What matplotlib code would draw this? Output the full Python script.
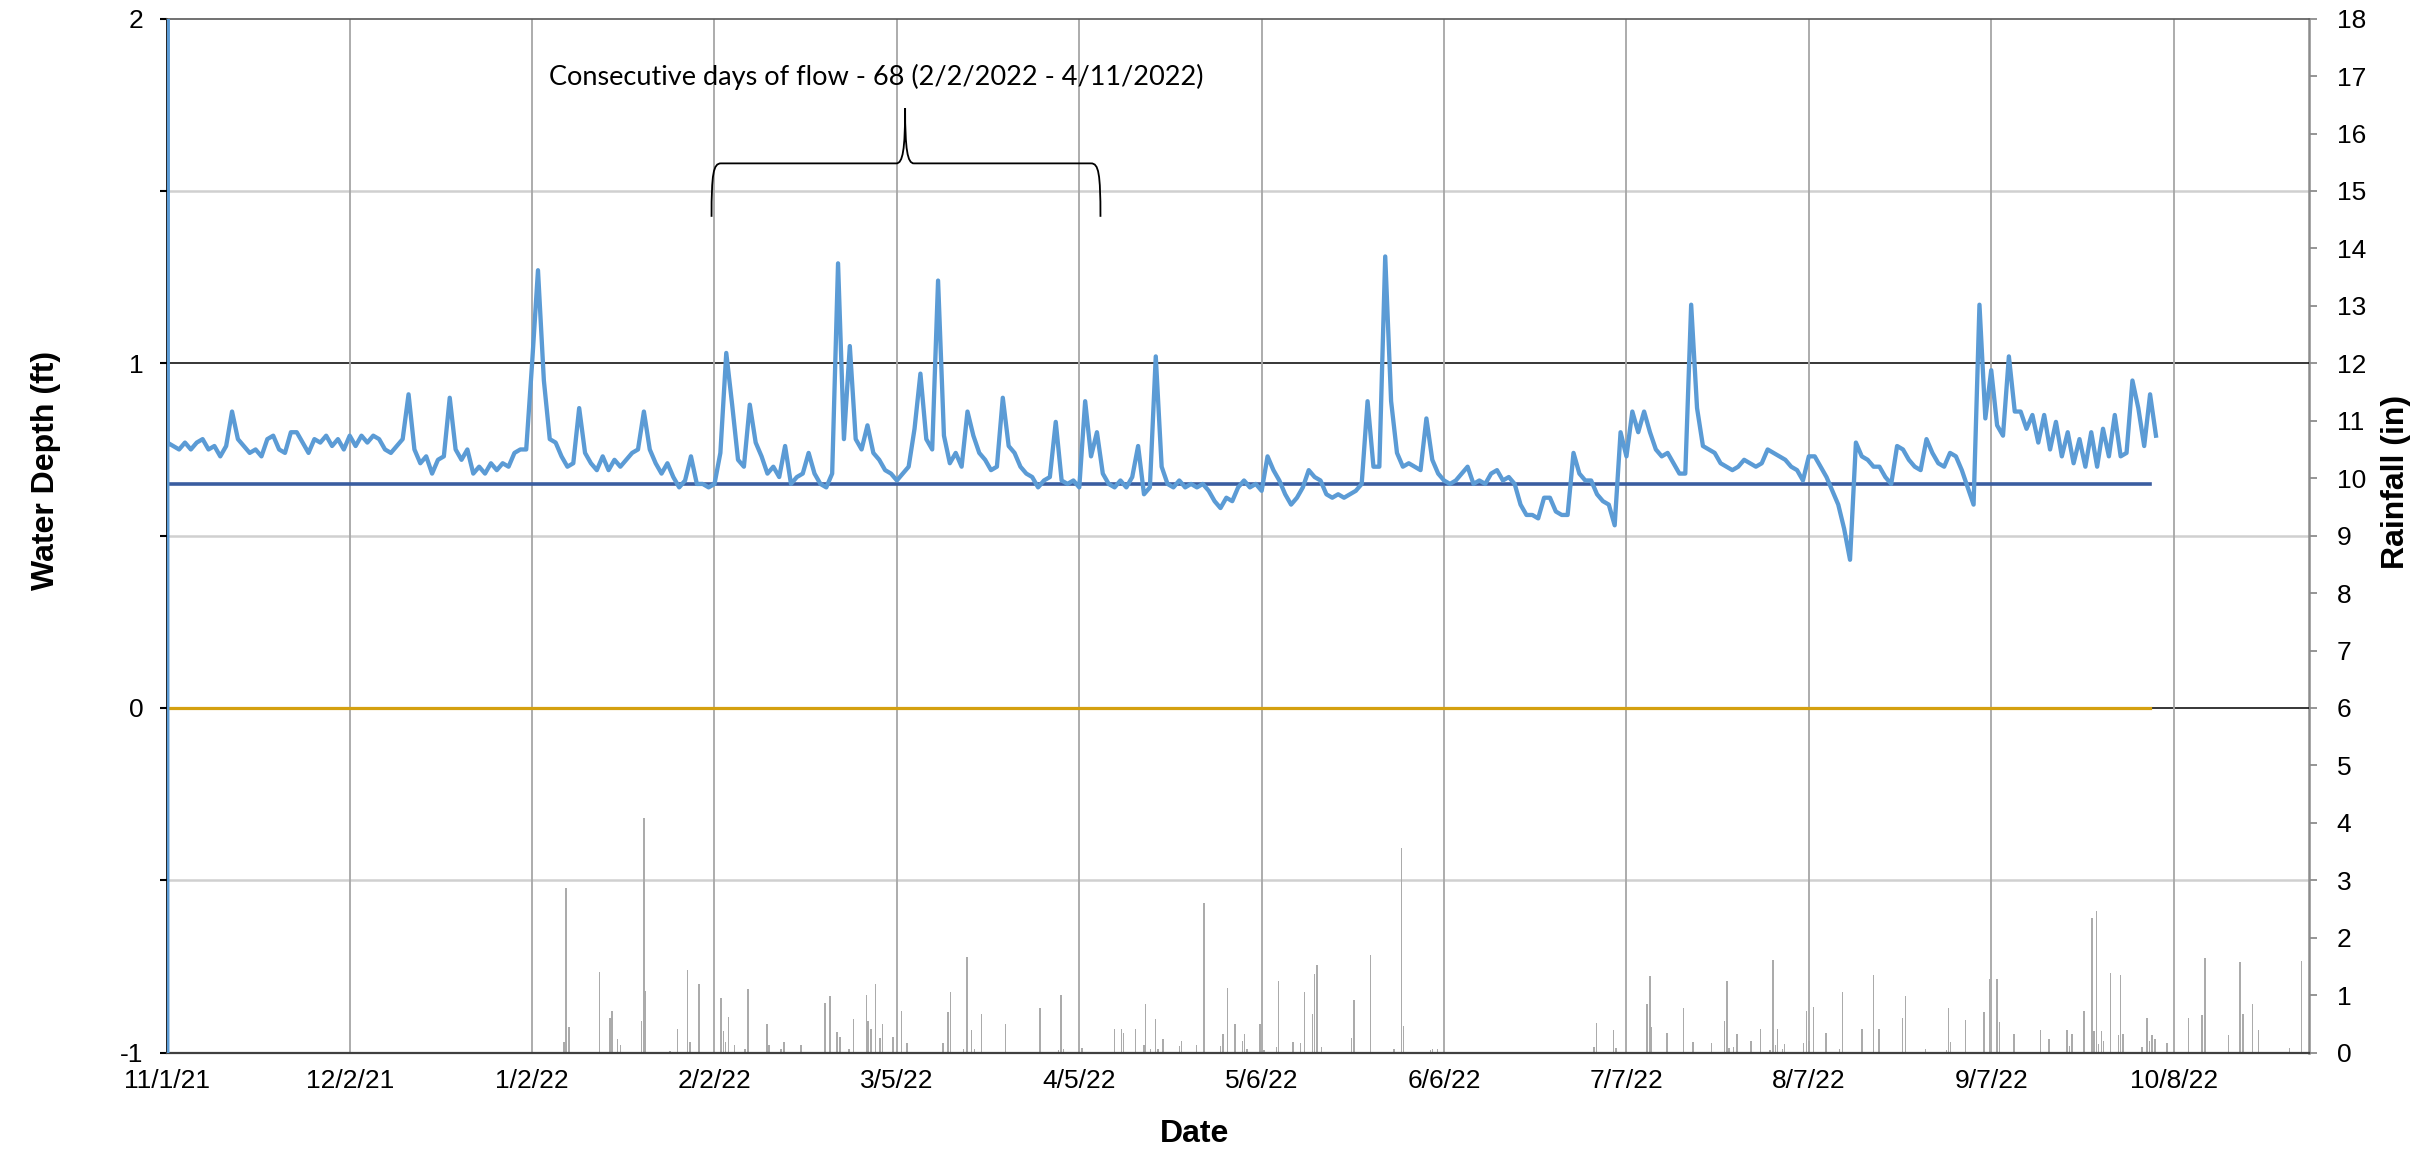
import matplotlib
matplotlib.use("Agg")
import matplotlib.pyplot as plt
from matplotlib.path import Path
from matplotlib.patches import PathPatch
from matplotlib.ticker import MultipleLocator, FixedLocator, FuncFormatter
import matplotlib.dates as mdates
import numpy as np
import pandas as pd

plt.rcParams['font.family'] = ['Liberation Sans', 'DejaVu Sans']

start = pd.Timestamp("2021-11-01")
x_end = pd.Timestamp("2022-10-31")

# daily water depth (ft) from 11/1/21
depth_ft = [
    0.77, 0.76, 0.75, 0.77, 0.75, 0.77, 0.78, 0.75, 0.76, 0.73,
    0.76, 0.86, 0.78, 0.76, 0.74, 0.75, 0.73, 0.78, 0.79, 0.75,
    0.74, 0.80, 0.80, 0.77, 0.74, 0.78, 0.77, 0.79, 0.76, 0.78,
    0.75, 0.79, 0.76, 0.79, 0.77, 0.79, 0.78, 0.75, 0.74, 0.76,
    0.78, 0.91, 0.75, 0.71, 0.73, 0.68, 0.72, 0.73, 0.90, 0.75,
    0.72, 0.75, 0.68, 0.70, 0.68, 0.71, 0.69, 0.71, 0.70, 0.74,
    0.75, 0.75, 1.00, 1.27, 0.95, 0.78, 0.77, 0.73, 0.70, 0.71,
    0.87, 0.74, 0.71, 0.69, 0.73, 0.69, 0.72, 0.70, 0.72, 0.74,
    0.75, 0.86, 0.75, 0.71, 0.68, 0.71, 0.67, 0.64, 0.66, 0.73,
    0.65, 0.65, 0.64, 0.65, 0.74, 1.03, 0.88, 0.72, 0.70, 0.88,
    0.77, 0.73, 0.68, 0.70, 0.67, 0.76, 0.65, 0.67, 0.68, 0.74,
    0.68, 0.65, 0.64, 0.68, 1.29, 0.78, 1.05, 0.78, 0.75, 0.82,
    0.74, 0.72, 0.69, 0.68, 0.66, 0.68, 0.70, 0.81, 0.97, 0.78,
    0.75, 1.24, 0.79, 0.71, 0.74, 0.70, 0.86, 0.79, 0.74, 0.72,
    0.69, 0.70, 0.90, 0.76, 0.74, 0.70, 0.68, 0.67, 0.64, 0.66,
    0.67, 0.83, 0.66, 0.65, 0.66, 0.64, 0.89, 0.73, 0.80, 0.68,
    0.65, 0.64, 0.66, 0.64, 0.67, 0.76, 0.62, 0.64, 1.02, 0.70,
    0.65, 0.64, 0.66, 0.64, 0.65, 0.64, 0.65, 0.63, 0.60, 0.58,
    0.61, 0.60, 0.64, 0.66, 0.64, 0.65, 0.63, 0.73, 0.69, 0.66,
    0.62, 0.59, 0.61, 0.64, 0.69, 0.67, 0.66, 0.62, 0.61, 0.62,
    0.61, 0.62, 0.63, 0.65, 0.89, 0.70, 0.70, 1.31, 0.89, 0.74,
    0.70, 0.71, 0.70, 0.69, 0.84, 0.72, 0.68, 0.66, 0.65, 0.66,
    0.68, 0.70, 0.65, 0.66, 0.65, 0.68, 0.69, 0.66, 0.67, 0.65,
    0.59, 0.56, 0.56, 0.55, 0.61, 0.61, 0.57, 0.56, 0.56, 0.74,
    0.68, 0.66, 0.66, 0.62, 0.60, 0.59, 0.53, 0.80, 0.73, 0.86,
    0.80, 0.86, 0.80, 0.75, 0.73, 0.74, 0.71, 0.68, 0.68, 1.17,
    0.87, 0.76, 0.75, 0.74, 0.71, 0.70, 0.69, 0.70, 0.72, 0.71,
    0.70, 0.71, 0.75, 0.74, 0.73, 0.72, 0.70, 0.69, 0.66, 0.73,
    0.73, 0.70, 0.67, 0.63, 0.59, 0.52, 0.43, 0.77, 0.73, 0.72,
    0.70, 0.70, 0.67, 0.65, 0.76, 0.75, 0.72, 0.70, 0.69, 0.78,
    0.74, 0.71, 0.70, 0.74, 0.73, 0.69, 0.64, 0.59, 1.17, 0.84,
    0.98, 0.82, 0.79, 1.02, 0.86, 0.86, 0.81, 0.85, 0.77, 0.85,
    0.75, 0.83, 0.73, 0.80, 0.71, 0.78, 0.70, 0.80, 0.70, 0.81,
    0.73, 0.85, 0.73, 0.74, 0.95, 0.87, 0.76, 0.91, 0.79,
]
startup_ft = [-1.2, 2.2]   # logger start-up spike on 11/1/21

ref_depth = 0.65    # dark blue reference line
zero_depth = 0.0    # gold line
ref_end = pd.Timestamp("2022-10-04")

# rainfall events: days after 11/1/21 and inches
rain_day = [
    67.4, 67.8, 68.3, 73.5, 75.2, 75.6, 76.5, 77.0, 80.6, 81.0, 81.3, 85.4, 86.7,
    88.4, 88.8, 90.4, 94.1, 94.5, 94.9, 95.4, 96.4, 98.2, 98.7, 101.9, 102.3,
    104.3, 104.8, 107.7, 111.8, 112.6, 113.8, 114.3, 115.9, 116.6, 118.8, 119.1,
    119.6, 120.4, 121.1, 121.6, 123.3, 124.8, 125.7, 131.8, 132.7, 133.1, 135.3,
    135.9, 136.7, 137.2, 138.4, 142.5, 148.3, 151.5, 151.9, 152.3, 155.5, 161.0,
    162.2, 162.5, 164.6, 166.0, 166.3, 167.1, 168.0, 168.4, 169.2, 172.0, 172.4,
    174.9, 176.2, 179.0, 179.4, 180.2, 181.5, 182.7, 183.1, 183.5, 185.7, 186.4,
    188.5, 188.9, 191.3, 192.6, 193.3, 194.6, 195.0, 195.4, 196.2, 201.3, 201.7,
    204.5, 208.5, 209.8, 210.1, 214.7, 215.0, 215.9, 236.5, 242.5, 242.9, 245.8,
    246.2, 251.5, 252.0, 252.3, 254.9, 257.7, 259.3, 262.5, 264.7, 265.1, 265.4,
    266.2, 266.8, 269.2, 270.8, 272.4, 272.9, 273.3, 273.7, 274.5, 274.9, 278.1,
    278.6, 279.0, 279.8, 281.9, 284.2, 284.7, 288.0, 290.0, 290.9, 294.9, 295.4,
    298.8, 302.4, 302.7, 303.1, 305.6, 308.8, 309.7, 311.0, 311.4, 313.9, 318.4,
    319.8, 322.9, 323.3, 323.7, 325.8, 327.1, 327.5, 327.9, 328.2, 328.7, 329.1,
    330.3, 331.6, 332.0, 332.4, 335.6, 336.5, 336.9, 337.3, 337.8, 339.9, 343.5,
    345.8, 346.3, 350.3, 352.3, 352.8, 354.4, 355.4, 360.7, 362.7,
]
rain_in = [
    0.18, 2.86, 0.45, 1.41, 0.61, 0.73, 0.24, 0.14, 0.55, 4.08, 1.08, 0.03, 0.42,
    1.44, 0.18, 1.19, 0.95, 0.38, 0.18, 0.62, 0.13, 0.06, 1.10, 0.50, 0.13,
    0.06, 0.18, 0.14, 0.87, 0.99, 0.36, 0.28, 0.06, 0.59, 1.01, 0.55,
    0.42, 1.20, 0.26, 0.50, 0.27, 0.72, 0.16, 0.16, 0.71, 1.06, 0.07,
    1.67, 0.40, 0.06, 0.68, 0.50, 0.78, 0.04, 1.01, 0.06, 0.08, 0.42,
    0.42, 0.35, 0.42, 0.14, 0.85, 0.07, 0.58, 0.07, 0.24, 0.11, 0.21,
    0.14, 2.61, 0.11, 0.32, 1.13, 0.50, 0.21, 0.33, 0.07, 0.50, 0.05,
    0.09, 1.25, 0.18, 0.16, 1.06, 0.68, 1.37, 1.53, 0.09, 0.26, 0.92,
    1.70, 0.07, 3.56, 0.46, 0.04, 0.06, 0.06, 0.02, 0.10, 0.52, 0.39,
    0.08, 0.85, 1.33, 0.45, 0.35, 0.77, 0.19, 0.16, 0.55, 1.25, 0.08,
    0.10, 0.32, 0.21, 0.42, 0.04, 1.61, 0.13, 0.41, 0.06, 0.15, 0.17,
    0.72, 0.21, 0.79, 0.34, 0.06, 1.05, 0.42, 1.36, 0.42, 0.60, 0.98,
    0.06, 0.04, 0.77, 0.18, 0.57, 0.71, 1.28, 1.28, 0.54, 0.32, 0.40,
    0.24, 0.40, 0.11, 0.33, 0.73, 2.34, 0.37, 2.46, 0.15, 0.37, 0.20,
    1.39, 0.31, 1.36, 0.32, 0.10, 0.60, 0.20, 0.31, 0.23, 0.17, 0.60,
    0.66, 1.65, 0.31, 1.58, 0.68, 0.85, 0.40, 0.08, 1.60,
]

note_text = "Consecutive days of flow - 68 (2/2/2022 - 4/11/2022)"
brace_left, brace_tip, brace_right = 92.5, 125.4, 158.6   # days after 11/1/21
brace_foot, brace_bar, brace_peak = 1.425, 1.58, 1.74      # ft

# ---------------------------------------------------------------------
depth_dates = [start, start] + list(start + pd.to_timedelta(np.arange(len(depth_ft)), unit="D"))
depth_vals = startup_ft + depth_ft
rain_dates = start + pd.to_timedelta(rain_day, unit="D")

fig = plt.figure(figsize=(24.32, 11.56), dpi=100)
ax = fig.add_axes([0.0688, 0.0894, 0.8806, 0.8945])
ax2 = ax.twinx()
ax.set_zorder(ax2.get_zorder() + 1)
ax.patch.set_visible(False)

# rainfall bars on the secondary axis
ax2.bar(rain_dates, rain_in, width=0.25, color="#ababab", linewidth=0, zorder=2)
ax2.set_ylim(0, 18)
ax2.yaxis.set_major_locator(MultipleLocator(1))
ax2.yaxis.set_minor_locator(FixedLocator([3, 9, 15]))
ax2.yaxis.remove_overlapping_locs = False
ax2.grid(which="minor", axis="y", color="#d0d0d0", linewidth=1.8, zorder=0)
ax2.tick_params(axis="y", which="major", length=6, width=1.3, color="#8c8c8c",
                labelsize=19, pad=14)
ax2.tick_params(axis="y", which="minor", length=0)

# lines on the primary axis
ax.plot(depth_dates, depth_vals, color="#5b9bd5", linewidth=3.1, zorder=4,
        solid_joinstyle="round")
ax.plot([start, ref_end], [ref_depth, ref_depth], color="#3a5da0", linewidth=2.6, zorder=3)
ax.plot([start, ref_end], [zero_depth, zero_depth], color="#d4a00f", linewidth=2.3, zorder=3)

ax.set_xlim(start, x_end)
ax.set_ylim(-1, 2)
ax.yaxis.set_major_locator(MultipleLocator(0.5))
ax.yaxis.set_major_formatter(FuncFormatter(lambda v, p: f"{v:.0f}" if abs(v - round(v)) < 1e-6 else ""))
ax.tick_params(axis="y", length=5, width=1.5, color="black", labelsize=19, pad=12)

tick_dates = [start + pd.Timedelta(days=31 * k) for k in range(12)]
ax.set_xticks(tick_dates)
ax.set_xticklabels([f"{d.month}/{d.day}/{d.year % 100}" for d in tick_dates])
ax.tick_params(axis="x", length=0, labelsize=19, pad=12)
ax.grid(axis="x", color="#a6a6a6", linewidth=1.3, zorder=0)
for v in [0, 1]:
    ax.axhline(v, color="black", linewidth=1.1, zorder=1)

for a in (ax, ax2):
    for s in a.spines.values():
        s.set_visible(False)
ax.spines["left"].set_visible(True)
ax.spines["left"].set_color("black")
ax.spines["left"].set_linewidth(1.2)
ax.spines["bottom"].set_visible(True)
ax.spines["bottom"].set_color("#404040")
ax.spines["bottom"].set_linewidth(1.6)
ax.spines["top"].set_visible(True)
ax.spines["top"].set_color("#595959")
ax.spines["top"].set_linewidth(1.2)
ax2.spines["right"].set_visible(True)
ax2.spines["right"].set_color("#8c8c8c")
ax2.spines["right"].set_linewidth(1.8)

# curly brace + note
x0 = mdates.date2num(start)
xl, xt, xr = x0 + brace_left, x0 + brace_tip, x0 + brace_right
verts = [
    (xl, brace_foot), (xl, brace_bar - 0.03), (xl + 0.3, brace_bar), (xl + 1.6, brace_bar),
    (xt - 1.5, brace_bar),
    (xt - 0.4, brace_bar), (xt, brace_bar + 0.04), (xt, brace_peak),
    (xt, brace_bar + 0.04), (xt + 0.4, brace_bar), (xt + 1.5, brace_bar),
    (xr - 1.6, brace_bar),
    (xr - 0.3, brace_bar), (xr, brace_bar - 0.03), (xr, brace_foot),
]
codes = [Path.MOVETO, Path.CURVE4, Path.CURVE4, Path.CURVE4,
         Path.LINETO,
         Path.CURVE4, Path.CURVE4, Path.CURVE4,
         Path.CURVE4, Path.CURVE4, Path.CURVE4,
         Path.LINETO,
         Path.CURVE4, Path.CURVE4, Path.CURVE4]
ax.add_patch(PathPatch(Path(verts, codes), facecolor="none", edgecolor="black",
                       linewidth=1.3, zorder=5))
ax.text(x0 + 120.5, 1.83, note_text, ha="center", va="center", fontsize=19.5,
        family=["Lato", "DejaVu Sans"], zorder=5)

# axis titles
fig.text(0.019, 0.593, "Water Depth (ft)", rotation=90, ha="center", va="center",
         fontsize=23, fontweight="bold")
fig.text(0.985, 0.583, "Rainfall (in)", rotation=90, ha="center", va="center",
         fontsize=23, fontweight="bold")
fig.text(0.491, 0.019, "Date", ha="center", va="center", fontsize=23, fontweight="bold")

fig.savefig("out.png", dpi=100)
